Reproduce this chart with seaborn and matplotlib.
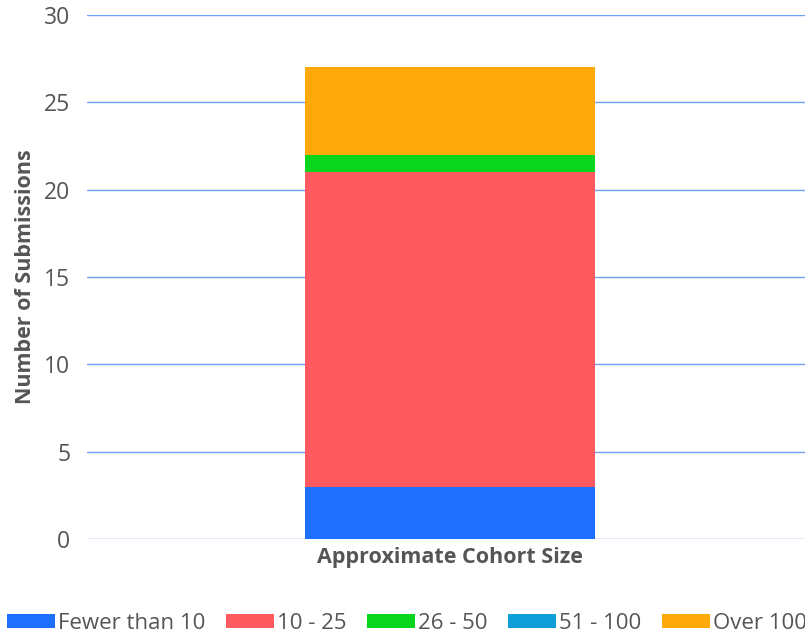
import matplotlib
matplotlib.use("Agg")
import matplotlib.pyplot as plt
import numpy as np
import pandas as pd
import seaborn as sns
from matplotlib.patches import Patch

category = ["Approximate Cohort Size"]
groups = ["Fewer than 10", "10 - 25", "26 - 50", "51 - 100", "Over 100"]
counts = [3, 18, 1, 0, 5]
colors = ["#1F6FFF", "#FF5A5F", "#0AD61E", "#0E9FD8", "#FFAA0A"]

sns.set_theme(style="white")
plt.rcParams["font.family"] = ["Open Sans", "DejaVu Sans"]
text_color = "#555555"

fig = plt.figure(figsize=(8.05, 6.36), dpi=100)
ax = fig.add_axes([0.108, 0.1525, 0.902, 0.824])

cum = np.cumsum(counts)
# draw tallest stack first so lower segments sit on top of it
for i in reversed(range(len(groups))):
    df = pd.DataFrame({"cat": category, "val": [cum[i]]})
    sns.barplot(data=df, x="cat", y="val", color=colors[i], width=0.40,
                saturation=1, linewidth=0, ax=ax, zorder=3)

ax.set_ylim(0, 30)
ax.set_xlim(-0.5, 0.5)
ax.set_yticks(range(0, 31, 5))
ax.yaxis.grid(True, color="#6E9EF0", linewidth=1.0, zorder=0)
ax.xaxis.grid(False)
ax.set_axisbelow(True)
for s in ax.spines.values():
    s.set_visible(False)
ax.tick_params(axis="y", length=0, labelsize=16.5, labelcolor=text_color, pad=12)
ax.tick_params(axis="x", length=0, labelcolor=text_color, pad=6)
ax.set_xticks([0])
ax.set_xticklabels(category, fontweight="bold", fontsize=15.5, color=text_color)
ax.set_xlabel("")
ax.set_ylabel("Number of Submissions", fontweight="bold", fontsize=15.5,
              color=text_color, labelpad=6)

handles = [Patch(facecolor=c, edgecolor="none") for c in colors]
fig.legend(handles, groups, loc="lower left", bbox_to_anchor=(-0.016, -0.028),
           ncol=5, frameon=False, fontsize=16, handlelength=2.15,
           handleheight=0.55, handletextpad=0.15, columnspacing=0.92,
           labelcolor=text_color)

fig.savefig("out.png", dpi=100)
